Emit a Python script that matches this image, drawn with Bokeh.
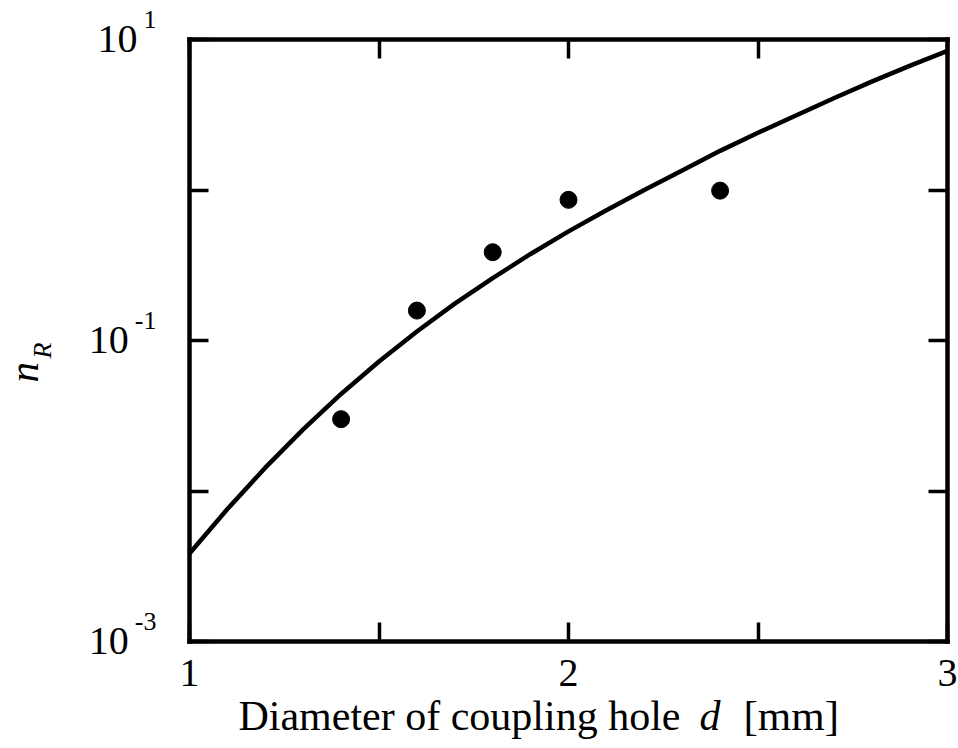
import math
from bokeh.plotting import figure
from bokeh.models import FixedTicker, LinearAxis, LogAxis, Label, Range1d
from bokeh.embed import file_html
from bokeh.resources import INLINE

# Theory curve
curve_x = [1.0, 1.1, 1.2, 1.3, 1.4, 1.5, 1.6, 1.7, 1.8, 1.9, 2.0,
           2.1, 2.2, 2.3, 2.4, 2.5, 2.6, 2.7, 2.8, 2.9, 3.0]
curve_y = [0.003846, 0.007586, 0.01429, 0.02570, 0.04416, 0.07244, 0.1148, 0.1758,
           0.2600, 0.3758, 0.5309, 0.7328, 1.000, 1.349, 1.820, 2.399, 3.126,
           4.074, 5.248, 6.683, 8.414]

# Measured points
pts_x = [1.4, 1.6, 1.8, 2.0, 2.4]
pts_y = [0.030, 0.158, 0.386, 0.86, 0.99]

x_lim = (1, 3)
y_lim = (1e-3, 10)
x_ticks = [1, 2, 3]
x_minor = [1.5, 2.5]
y_ticks = [1e-3, 1e-1, 10]
y_minor = [1e-2, 1]
y_exps = ["-3", "-1", "1"]

x_title = "Diameter of coupling hole"
x_title_var = "d"
x_title_unit = "[mm]"
y_title_var = "n"
y_title_sub = "R"

FONT = "Liberation Serif"

# layout: plot box inside the canvas (pixels)
W, H = 958, 748
BL, BR, BT, BB = 189, 947, 39, 641
xpp = (BR - BL) / (x_lim[1] - x_lim[0])
x_start = x_lim[0] - BL / xpp
x_end = x_lim[1] + (W - BR) / xpp
ly0, ly1 = math.log10(y_lim[0]), math.log10(y_lim[1])
dpp = (BB - BT) / (ly1 - ly0)
y_start = 10 ** (ly0 - (H - BB) / dpp)
y_end = 10 ** (ly1 + BT / dpp)

p = figure(width=W, height=H, x_range=Range1d(x_start, x_end), y_range=Range1d(y_start, y_end),
           y_axis_type="log", x_axis_location=None, y_axis_location=None,
           output_backend="svg", toolbar_location=None,
           min_border=0)
p.grid.visible = False
p.background_fill_color = "white"
p.border_fill_color = "white"
p.outline_line_color = None

xt = FixedTicker(ticks=x_ticks, minor_ticks=x_minor)
yt = FixedTicker(ticks=y_ticks, minor_ticks=y_minor)


def style_axis(ax):
    ax.axis_line_color = "black"
    ax.axis_line_width = 4.5
    ax.axis_line_cap = "square"
    ax.major_tick_in = 19
    ax.major_tick_out = 0
    ax.minor_tick_in = 19
    ax.minor_tick_out = 0
    ax.major_tick_line_width = 3.5
    ax.minor_tick_line_width = 3.5
    ax.major_tick_line_color = "black"
    ax.minor_tick_line_color = "black"


bottom = LinearAxis(ticker=xt, fixed_location=y_lim[0], bounds=x_lim)
style_axis(bottom)
bottom.major_label_text_font = FONT
bottom.major_label_text_font_size = "40px"
bottom.major_label_text_color = "black"
bottom.major_label_standoff = 18
p.add_layout(bottom, "below")

top = LinearAxis(ticker=xt, fixed_location=y_lim[1], bounds=x_lim,
                 major_label_overrides={t: "" for t in x_ticks})
style_axis(top)
p.add_layout(top, "above")

left = LogAxis(ticker=yt, fixed_location=x_lim[0], bounds=y_lim,
               major_label_overrides={t: "" for t in y_ticks})
style_axis(left)
p.add_layout(left, "left")

right = LogAxis(ticker=yt, fixed_location=x_lim[1], bounds=y_lim,
                major_label_overrides={t: "" for t in y_ticks})
style_axis(right)
p.add_layout(right, "right")

p.line(curve_x, curve_y, line_color="black", line_width=4.5)
p.scatter(pts_x, pts_y, size=17, marker="circle", fill_color="black", line_color="black")


def add_text(**kw):
    kw.setdefault("text_font", FONT)
    kw.setdefault("text_color", "black")
    kw.setdefault("text_baseline", "alphabetic")
    p.add_layout(Label(**kw))


# y tick labels 10^n
fs_e = 26
for t, e in zip(y_ticks, y_exps):
    w = sum(0.5 * fs_e if ch.isdigit() else 0.333 * fs_e for ch in e)
    add_text(x=x_lim[0], y=t, text=e, text_align="right", x_offset=-33, y_offset=20,
             text_font_size=f"{fs_e}px")
    add_text(x=x_lim[0], y=t, text="10", text_align="right", x_offset=-33 - w - 6, y_offset=1,
             text_font_size="40px")

# x title
add_text(x=x_lim[0], y=y_lim[0], text=x_title, text_align="right", x_offset=491, y_offset=-74,
         text_font_size="42px")
add_text(x=x_lim[0], y=y_lim[0], text=x_title_var, text_align="left", x_offset=510, y_offset=-74,
         text_font_size="42px", text_font_style="italic")
add_text(x=x_lim[0], y=y_lim[0], text=x_title_unit, text_align="left", x_offset=554, y_offset=-74,
         text_font_size="43px")

# y title
add_text(x=x_lim[0], y=0.1, text=y_title_var, text_align="left", angle=math.pi / 2,
         x_offset=-166, y_offset=-42, text_font_size="41px", text_font_style="italic")
add_text(x=x_lim[0], y=0.1, text=y_title_sub, text_align="left", angle=math.pi / 2,
         x_offset=-147, y_offset=-18, text_font_size="26px", text_font_style="italic")

open("out.html", "w").write(file_html(p, INLINE))
